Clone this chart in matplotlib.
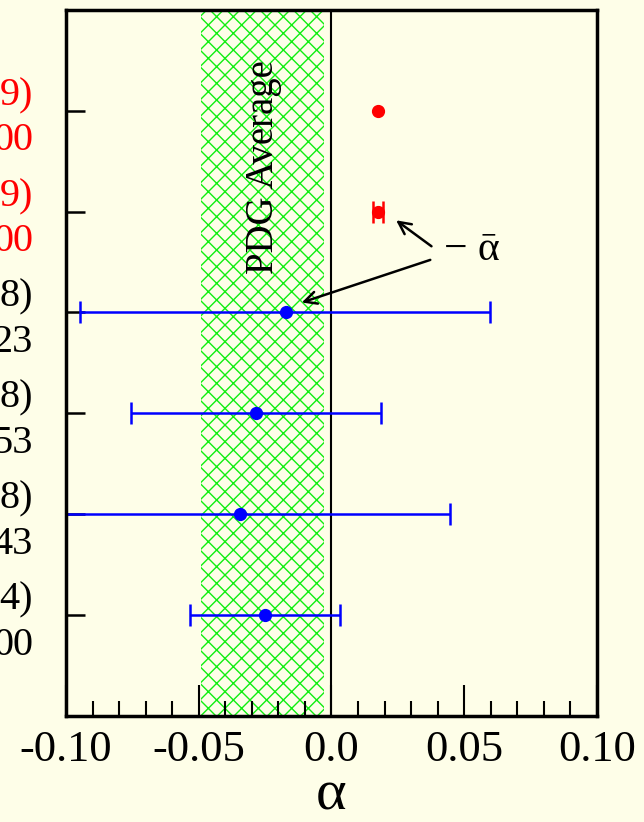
import matplotlib.pyplot as plt
import numpy as np

plt.rcParams['font.family'] = ['Liberation Serif', 'DejaVu Serif']
plt.rcParams['hatch.linewidth'] = 1.0

# measurements, bottom row first
rows = [1, 2, 3, 4, 5, 6]
alpha_val = [-0.025, -0.0345, -0.0284, -0.0171, 0.0175, 0.0175]
err_lo = [0.0283, 0.0655, 0.0471, 0.0776, 0.0018, 0.0]
err_hi = [0.0282, 0.0791, 0.0470, 0.0768, 0.0018, 0.0]
colors = ['blue', 'blue', 'blue', 'blue', 'red', 'red']
label_top = ['4)', '8)', '8)', '8)', '9)', '9)']
label_bot = ['00', '43', '53', '23', '00', '00']

pdg_lo = -0.0491
pdg_hi = -0.0028

bg = '#fefee8'
fig = plt.figure(figsize=(6.44, 8.22), dpi=100, facecolor=bg)
ax = fig.add_axes([0.1025, 0.129, 0.8245, 0.859])
ax.set_facecolor(bg)

ax.axvspan(pdg_lo, pdg_hi, facecolor='none', edgecolor='#11ee11', hatch='xx', linewidth=0)
ax.axvline(0.0, color='black', linewidth=1.5)

for r, v, lo, hi, c in zip(rows, alpha_val, err_lo, err_hi, colors):
	if lo > 0:
		ax.errorbar(v, r, xerr=[[lo], [hi]], fmt='o', color=c, markersize=8.5,
			elinewidth=1.8, capsize=8, capthick=1.8, clip_on=False)
	else:
		ax.plot(v, r, 'o', color=c, markersize=8.5)

ax.text(-0.0258, 5.44, 'PDG Average', rotation=90, ha='center', va='center', fontsize=28)

ax.text(0.0425, 4.62, '\u2212 \u1fb1', ha='left', va='center', fontsize=30)
ax.annotate('', xy=(0.0235, 4.93), xytext=(0.0385, 4.64),
	arrowprops=dict(arrowstyle='->', color='black', lw=1.8, mutation_scale=22))
ax.annotate('', xy=(-0.0122, 4.09), xytext=(0.0382, 4.53),
	arrowprops=dict(arrowstyle='->', color='black', lw=1.8, mutation_scale=22))

ax.set_xlim(-0.10, 0.10)
ax.set_ylim(0, 7)
ax.set_xticks([-0.10, -0.05, 0.0, 0.05, 0.10])
ax.set_xticklabels(['-0.10', '-0.05', '0.0', '0.05', '0.10'])
ax.set_xticks(np.arange(-0.09, 0.1, 0.01), minor=True)
ax.set_yticks(rows)
ax.set_yticklabels([])
ax.tick_params(axis='x', which='major', direction='in', length=22, width=1.5, labelsize=32, pad=10)
ax.tick_params(axis='x', which='minor', direction='in', length=11, width=1.5)
ax.tick_params(axis='y', which='major', direction='in', length=14, width=1.8)
ax.tick_params(top=False, right=False)
for s in ax.spines.values():
	s.set_linewidth(2.5)

ax.set_xlabel('α', fontsize=42, labelpad=0)

for r, t1, t2, c in zip(rows, label_top, label_bot, colors):
	ax.text(-0.1124, r + 0.15, t1, ha='right', va='center', fontsize=29, color='black' if c == 'blue' else 'red', clip_on=False)
	ax.text(-0.1124, r - 0.30, t2, ha='right', va='center', fontsize=29, color='black' if c == 'blue' else 'red', clip_on=False)

plt.savefig('out.png', format='png', facecolor=bg)
